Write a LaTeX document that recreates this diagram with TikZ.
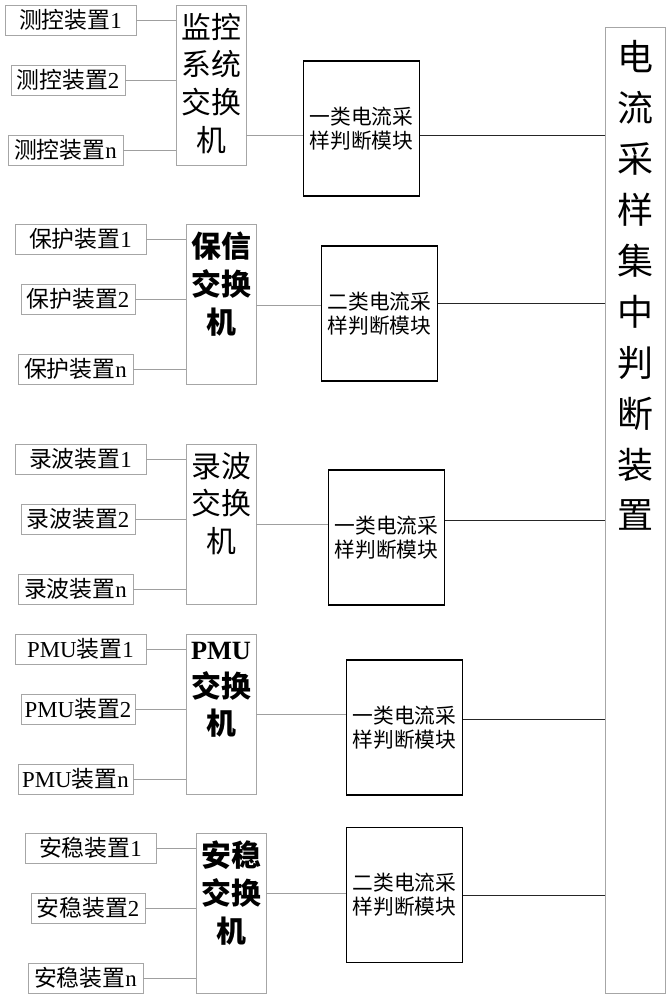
\documentclass[tikz,border=0pt]{standalone}
\usepackage{fontspec}
\setmainfont{Liberation Serif}
\newfontfamily\cjk{Noto Sans CJK SC}
\usetikzlibrary{positioning}
\tikzset{
  devbox/.style={draw=gray!70,thin,inner sep=0pt,minimum height=0.6cm,font=\cjk\fontsize{13}{14}\selectfont},
  swbox/.style={draw=gray!70,thin,minimum width=1.4cm,minimum height=3.2cm},
  swtext/.style={anchor=north,inner sep=0pt,align=center,font=\cjk\fontsize{17}{21.5}\selectfont},
  modbox/.style={draw=black,semithick,minimum width=2.3cm,minimum height=2.7cm,align=center,font=\cjk\fontsize{11.8}{13.5}\selectfont},
  hubbox/.style={draw=gray!70,thin,minimum width=1.2cm,minimum height=19.32cm},
  graywire/.style={gray!75,thin},
  blackwire/.style={black!85,thin},
}

\begin{document}
\begin{tikzpicture}[x=0.02cm,y=-0.02cm]
    \useasboundingbox (0,0) rectangle (671,1000);

    % central judging unit
    \node[hubbox] (hub) at (635,510) {};
    \node[anchor=north,align=center,font=\cjk\fontsize{20.5}{29}\selectfont] (hubtext) at (635,34) {电\\流\\采\\样\\集\\中\\判\\断\\装\\置};

    % group / top / x-shift / device / switch text / weight / module centre / module text / wire in / wire out
    \foreach \g/\top/\dx/\dev/\swlabel/\swweight/\mx/\my/\mlabel/\wy/\oy in {
        1/5/-10/测控/监控\\系统\\交换\\机/\mdseries/361.5/128.5/一类电流采\\样判断模块/135/135,
        2/224/0/保护/保信\\交换\\机/\bfseries/379.5/313.5/二类电流采\\样判断模块/305/303,
        3/444/0/录波/录波\\交换\\机/\mdseries/386.5/537.5/一类电流采\\样判断模块/524/520,
        4/634/0/\textrm{PMU}/{{\fontsize{15}{21.5}\selectfont\textrm{PMU}}}\\交换\\机/\bfseries/404.5/727.5/一类电流采\\样判断模块/714/719,
        5/833/10/安稳/安稳\\交换\\机/\bfseries/404.5/895/二类电流采\\样判断模块/893/895} {
        % devices
        \node[devbox,minimum width=2.62cm] (d\g-1) at (80.5+\dx,\top+15) {\dev 装置\textrm{1}};
        \node[devbox,minimum width=2.28cm] (d\g-2) at (78+\dx,\top+75) {\dev 装置\textrm{2}};
        \node[devbox,minimum width=2.3cm] (d\g-3) at (75.5+\dx,\top+145) {\dev 装置\textrm{n}};
        % switch
        \node[swbox] (s\g) at (221+\dx,\top+80) {};
        \node[swtext,font=\cjk\fontsize{17}{21.5}\selectfont\swweight] (t\g) at ([yshift=-0.16cm]s\g.north) {\swlabel};
        \foreach \k in {1,2,3} {
            \draw[graywire] (d\g-\k.east) -- (d\g-\k.east -| s\g.west);
        }
        % judging module
        \node[modbox] (m\g) at (\mx,\my) {\mlabel};
        \coordinate (in\g) at (0,\wy);
        \coordinate (out\g) at (0,\oy);
        \draw[graywire] (s\g.east |- in\g) -- (m\g.west |- in\g);
        \draw[blackwire] (m\g.east |- out\g) -- (hub.west |- out\g);
    }
\end{tikzpicture}
\end{document}
